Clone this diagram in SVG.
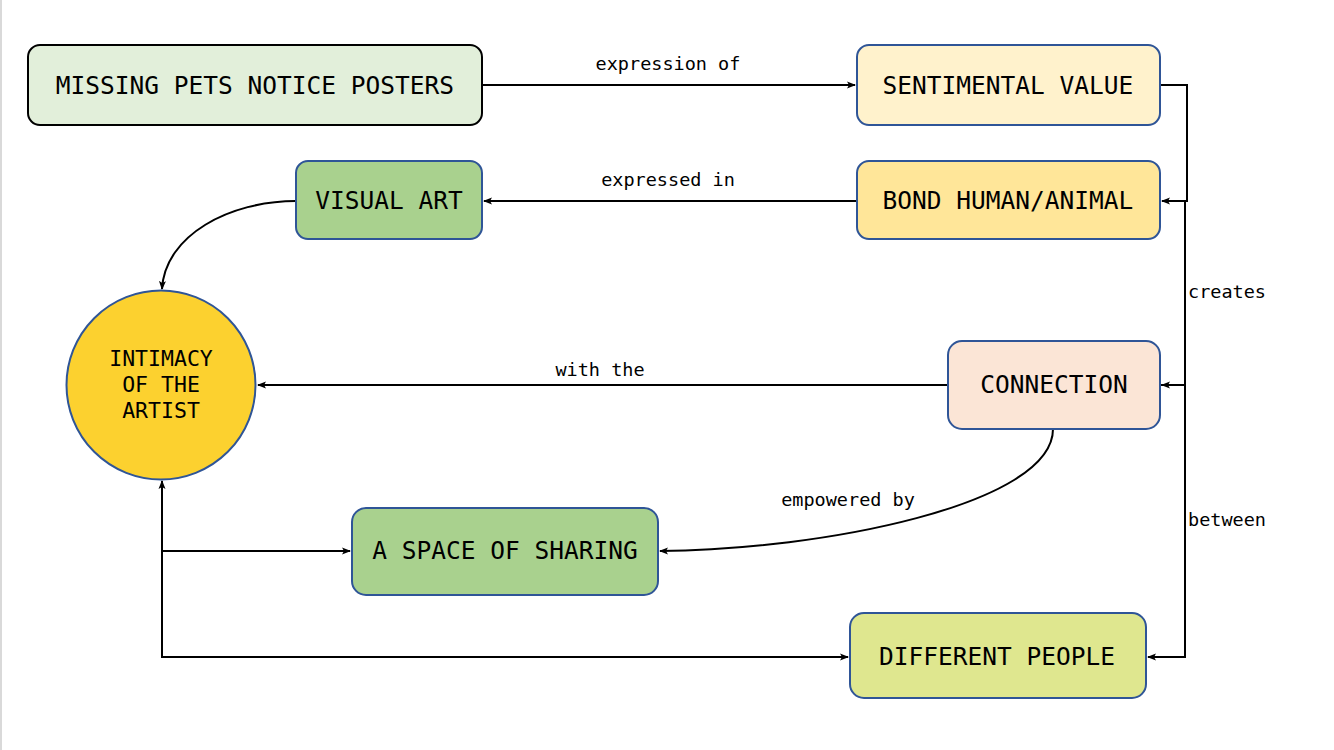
<svg xmlns="http://www.w3.org/2000/svg" width="1334" height="750" viewBox="0 0 1334 750">
<defs>
<marker id="arr" markerWidth="10" markerHeight="8" refX="8" refY="4" orient="auto" markerUnits="userSpaceOnUse">
<path d="M0,0.5 L9,4 L0,7.5 L2,4 Z" fill="#000"/>
</marker>
<marker id="arrs" markerWidth="10" markerHeight="8" refX="1" refY="4" orient="auto" markerUnits="userSpaceOnUse">
<path d="M9,0.5 L0,4 L9,7.5 L7,4 Z" fill="#000"/>
</marker>
</defs>
<style>
.box{stroke:#2f5597;stroke-width:2}
.nt{font-family:"DejaVu Sans Mono",monospace;font-size:24.5px;fill:#000;text-anchor:middle}
.ct{font-family:"DejaVu Sans Mono",monospace;font-size:21.5px;fill:#000;text-anchor:middle}
.lb{font-family:"DejaVu Sans Mono",monospace;font-size:18.5px;fill:#000}
.e{fill:none;stroke:#000;stroke-width:2}
</style>
<rect x="0" y="0" width="1334" height="750" fill="#fff"/>
<line x1="1" y1="0" x2="1" y2="750" stroke="#d9d9d9" stroke-width="2"/>
<g id="connectors">
<path class="e" d="M482,85 H855" marker-end="url(#arr)"/>
<text class="lb" x="668" y="70" text-anchor="middle">expression of</text>
<path class="e" d="M1160,85 H1187 V201 H1162" marker-end="url(#arr)"/>
<path class="e" d="M857,201 H484" marker-end="url(#arr)"/>
<text class="lb" x="668" y="186" text-anchor="middle">expressed in</text>
<path class="e" d="M296,201 C230,201 165,235 162,289" marker-end="url(#arr)"/>
<path class="e" d="M1185,201 V385 H1162" marker-end="url(#arr)"/>
<text class="lb" x="1188" y="298">creates</text>
<path class="e" d="M1160,385 H1185 V657 H1148" marker-end="url(#arr)"/>
<text class="lb" x="1188" y="526">between</text>
<path class="e" d="M948,385 H258" marker-end="url(#arr)"/>
<text class="lb" x="600" y="376" text-anchor="middle">with the</text>
<path class="e" d="M1053,429 C1053,505 820,550 660,551" marker-end="url(#arr)"/>
<text class="lb" x="848" y="506" text-anchor="middle">empowered by</text>
<path class="e" d="M162,481 V551 H350" marker-start="url(#arrs)" marker-end="url(#arr)"/>
<path class="e" d="M162,551 V657 H848" marker-end="url(#arr)"/>
</g>
<g id="n-posters">
<rect x="28" y="45" width="454" height="80" rx="12" fill="#e2efda" stroke="#000" stroke-width="2"/>
<text class="nt" x="255" y="94">MISSING PETS NOTICE POSTERS</text>
</g>
<g id="n-sentimental">
<rect class="box" x="857" y="45" width="303" height="80" rx="12" fill="#fff2cc"/>
<text class="nt" x="1008" y="94">SENTIMENTAL VALUE</text>
</g>
<g id="n-bond">
<rect class="box" x="857" y="161" width="303" height="78" rx="12" fill="#ffe699"/>
<text class="nt" x="1008" y="209">BOND HUMAN/ANIMAL</text>
</g>
<g id="n-visual">
<rect class="box" x="296" y="161" width="186" height="78" rx="12" fill="#a9d18e"/>
<text class="nt" x="389" y="209">VISUAL ART</text>
</g>
<g id="n-intimacy">
<circle class="box" cx="161" cy="385" r="94.5" fill="#fcd12f"/>
<text class="ct" x="161" y="366">INTIMACY</text>
<text class="ct" x="161" y="392">OF THE</text>
<text class="ct" x="161" y="418">ARTIST</text>
</g>
<g id="n-connection">
<rect class="box" x="948" y="341" width="212" height="88" rx="14" fill="#fbe5d6"/>
<text class="nt" x="1054" y="393">CONNECTION</text>
</g>
<g id="n-space">
<rect class="box" x="352" y="508" width="306" height="87" rx="14" fill="#a9d18e"/>
<text class="nt" x="505" y="559">A SPACE OF SHARING</text>
</g>
<g id="n-people">
<rect class="box" x="850" y="613" width="296" height="85" rx="14" fill="#dfe78f"/>
<text class="nt" x="997" y="665">DIFFERENT PEOPLE</text>
</g>
</svg>
